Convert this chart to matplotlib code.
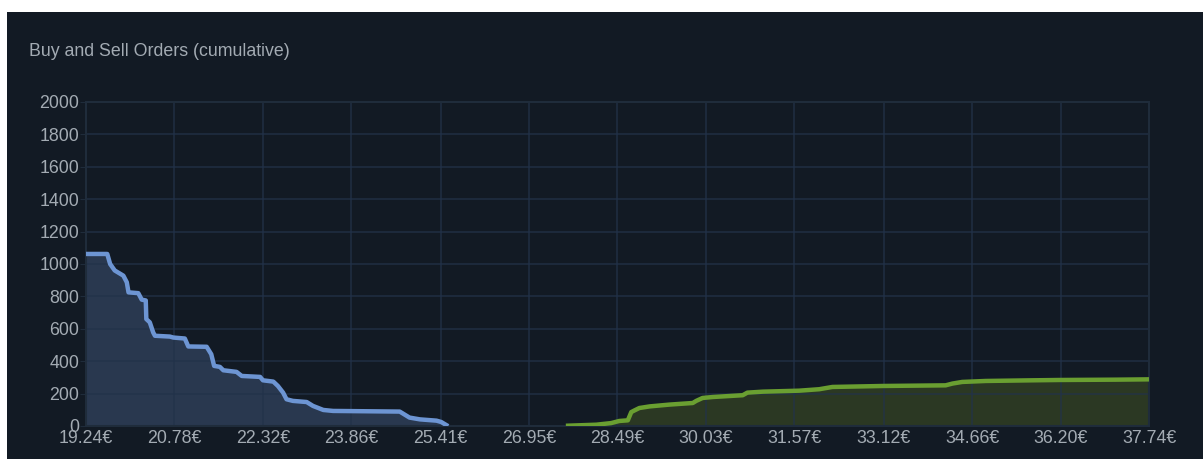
import matplotlib.pyplot as plt
from matplotlib.patches import Rectangle

# buy orders (price in EUR, cumulative quantity)
buy_price = [19.24, 19.61, 19.66, 19.74, 19.89, 19.95, 19.98, 20.15, 20.21, 20.28,
             20.29, 20.35, 20.41, 20.44, 20.70, 20.76, 20.96, 21.02, 21.34, 21.42,
             21.47, 21.57, 21.63, 21.86, 21.95, 22.27, 22.32, 22.50, 22.58, 22.67,
             22.73, 22.84, 23.08, 23.19, 23.37, 23.54, 24.70, 24.87, 25.05, 25.34,
             25.42, 25.51]
buy_qty = [1062, 1062, 1000, 960, 928, 887, 825, 820, 780, 775,
           660, 640, 577, 557, 552, 546, 540, 491, 489, 443,
           371, 365, 344, 334, 309, 303, 282, 274, 247, 206,
           165, 155, 148, 124, 99, 93, 89, 52, 41, 33,
           25, 6]

# sell orders
sell_price = [27.63, 28.12, 28.38, 28.52, 28.67, 28.73, 28.79, 28.87, 29.05, 29.39,
              29.80, 29.86, 29.97, 30.15, 30.67, 30.75, 31.02, 31.65, 32.00, 32.23,
              33.10, 34.20, 34.32, 34.49, 34.90, 35.71, 36.17, 37.16, 37.74]
sell_qty = [2, 8, 18, 31, 35, 86, 97, 111, 121, 132,
            142, 155, 173, 179, 190, 206, 212, 218, 227, 241,
            247, 251, 262, 272, 278, 282, 284, 286, 288]

x_ticks = [19.24, 20.78, 22.32, 23.86, 25.41, 26.95, 28.49, 30.03, 31.57, 33.12,
           34.66, 36.20, 37.74]
y_ticks = [0, 200, 400, 600, 800, 1000, 1200, 1400, 1600, 1800, 2000]

bg = '#121a24'
grid_c = '#22324a'
text_c = '#a3abb3'

plt.rcParams['font.family'] = ['Liberation Sans', 'DejaVu Sans']

fig = plt.figure(figsize=(12.03, 4.59), dpi=100, facecolor='white')
fig.patches.append(Rectangle((7 / 1203, 0), 1, 1 - 12 / 459, transform=fig.transFigure,
                             facecolor=bg, edgecolor='none', zorder=-10))

ax = fig.add_axes([86 / 1203, 33 / 459, (1149 - 86) / 1203, (426 - 102) / 459])
ax.set_facecolor(bg)

ax.fill_between(buy_price, buy_qty, 0, color='#29384f', lw=0, zorder=1)
ax.plot(buy_price, buy_qty, color='#6d95d3', lw=3.2, solid_joinstyle='round', zorder=3)
ax.fill_between(sell_price, sell_qty, 0, color='#2b3823', lw=0, zorder=1)
ax.plot(sell_price, sell_qty, color='#6a9f31', lw=3.2, solid_joinstyle='round', zorder=3)

ax.set_xlim(x_ticks[0], x_ticks[-1])
ax.set_ylim(0, 2000)
ax.set_xticks(x_ticks)
ax.set_xticklabels([f'{v:.2f}€' for v in x_ticks])
ax.set_yticks(y_ticks)
ax.grid(True, color=grid_c, lw=1.2, alpha=0.75, zorder=2)
for s in ax.spines.values():
    s.set_color('#1f2c3b')
    s.set_linewidth(1.5)
    s.set_zorder(2.5)
ax.tick_params(axis='y', colors='#1f2c3b', labelcolor=text_c, labelsize=12.8, length=4, pad=1)
ax.tick_params(axis='x', colors='#1f2c3b', labelcolor=text_c, labelsize=12.8, length=0, pad=3)

fig.text(29 / 1203, 1 - 52 / 459, 'Buy and Sell Orders (cumulative)', color=text_c,
         fontsize=12.8, va='center', ha='left')

fig.savefig('out.png', dpi=100, facecolor='white')
